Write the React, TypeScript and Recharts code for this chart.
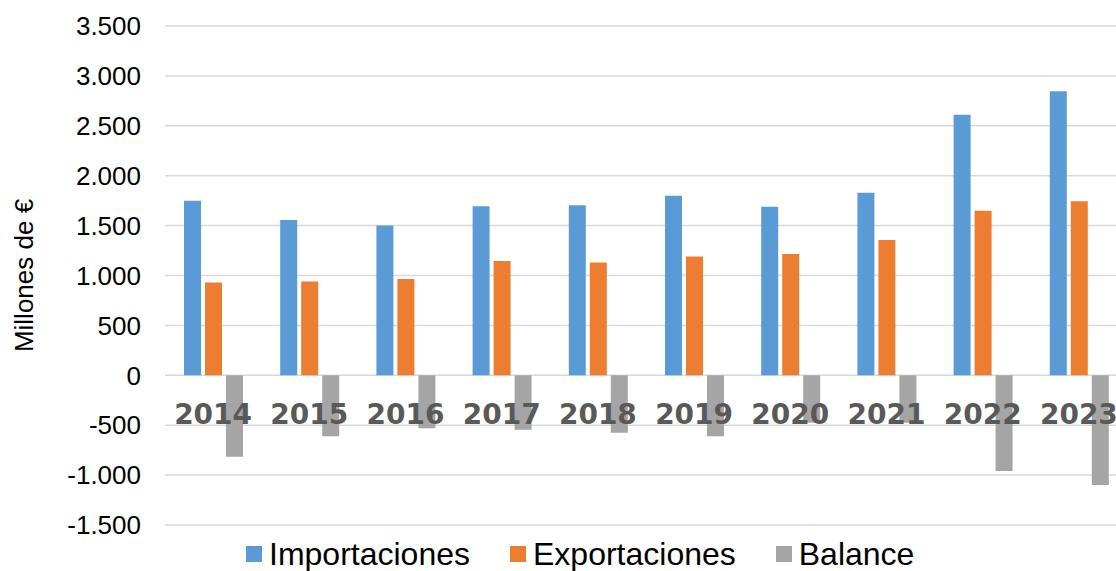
import { Bar, BarChart, CartesianGrid, Legend, XAxis, YAxis } from 'recharts'

const YEARS = ['2014', '2015', '2016', '2017', '2018', '2019', '2020', '2021', '2022', '2023']
const IMPORTACIONES = [1750, 1555, 1500, 1695, 1705, 1800, 1690, 1830, 2610, 2845]
const EXPORTACIONES = [930, 940, 965, 1145, 1130, 1190, 1215, 1355, 1650, 1745]
const BALANCE = [-815, -610, -530, -545, -575, -610, -475, -475, -960, -1100]
const Y_TICKS = [-1500, -1000, -500, 0, 500, 1000, 1500, 2000, 2500, 3000, 3500]

const SERIES = [
  { key: 'imp', name: 'Importaciones', color: '#5b9bd5' },
  { key: 'exp', name: 'Exportaciones', color: '#ed7d31' },
  { key: 'bal', name: 'Balance', color: '#a5a5a5' },
]

const WIDTH = 1127
const HEIGHT = 571
const TOP = 26
const LEGEND_H = 45
const XAXIS_H = 1
const PLOT_H = HEIGHT - TOP - LEGEND_H - XAXIS_H
const Y_MIN = Y_TICKS[0]
const Y_MAX = Y_TICKS[Y_TICKS.length - 1]
// distance from the bottom of the plot up to the zero line
const ZERO_UP = (PLOT_H * (0 - Y_MIN)) / (Y_MAX - Y_MIN)

const data = YEARS.map((year, i) => ({
  year,
  imp: IMPORTACIONES[i],
  exp: EXPORTACIONES[i],
  bal: BALANCE[i],
}))

const fmt = (v: number) => {
  const s = String(Math.abs(v)).replace(/\B(?=(\d{3})+(?!\d))/g, '.')
  return v < 0 ? `-${s}` : s
}

const YearTick = (props: any) => {
  const { x, y, payload } = props
  return (
    <text
      x={x}
      y={y - ZERO_UP + 49}
      textAnchor="middle"
      fill="#595959"
      fontFamily="'DejaVu Sans', Verdana, sans-serif"
      fontWeight="bold"
      fontSize={28}
    >
      {payload.value}
    </text>
  )
}

const YLabel = (props: any) => {
  const vb = props.viewBox
  const cy = vb.y + vb.height / 2
  return (
    <text
      x={33}
      y={cy}
      transform={`rotate(-90, 33, ${cy})`}
      textAnchor="middle"
      fill="#000"
      fontFamily="'Liberation Sans', Arial, sans-serif"
      fontSize={26}
    >
      Millones de €
    </text>
  )
}

const LegendContent = () => (
  <div
    style={{
      height: LEGEND_H,
      boxSizing: 'border-box',
      paddingTop: 11,
      paddingLeft: 246,
      display: 'flex',
      alignItems: 'center',
      gap: 40,
      fontFamily: "'Liberation Sans', Arial, sans-serif",
      fontSize: 32,
      lineHeight: '36px',
      color: '#000',
    }}
  >
    {SERIES.map((s) => (
      <div key={s.key} style={{ display: 'flex', alignItems: 'center', gap: 7 }}>
        <span style={{ width: 16, height: 16, background: s.color, display: 'inline-block' }} />
        <span>{s.name}</span>
      </div>
    ))}
  </div>
)

export default function App() {
  return (
    <div style={{ position: 'fixed', left: 0, top: 0, width: 1116, height: 571, overflow: 'hidden', background: '#fff' }}>
      <BarChart
        width={WIDTH}
        height={HEIGHT}
        data={data}
        margin={{ top: TOP, right: 0, bottom: 0, left: 0 }}
        barSize={17}
        barGap={4}
      >
        <CartesianGrid vertical={false} stroke="#d9d9d9" strokeWidth={1.5} />
        <YAxis
          width={165}
          domain={[Y_MIN, Y_MAX]}
          ticks={Y_TICKS}
          interval={0}
          axisLine={false}
          tickLine={false}
          tickSize={6}
          tickMargin={18}
          tickFormatter={fmt}
          tick={{ fill: '#000', fontSize: 26, fontFamily: "'Liberation Sans', Arial, sans-serif" }}
          label={<YLabel />}
        />
        {SERIES.map((s) => (
          <Bar key={s.key} dataKey={s.key} name={s.name} fill={s.color} isAnimationActive={false} />
        ))}
        <XAxis
          dataKey="year"
          height={XAXIS_H}
          axisLine={false}
          tickLine={false}
          tickSize={0}
          tickMargin={0}
          interval={0}
          tick={<YearTick />}
        />
        <Legend verticalAlign="bottom" content={<LegendContent />} />
      </BarChart>
    </div>
  )
}
